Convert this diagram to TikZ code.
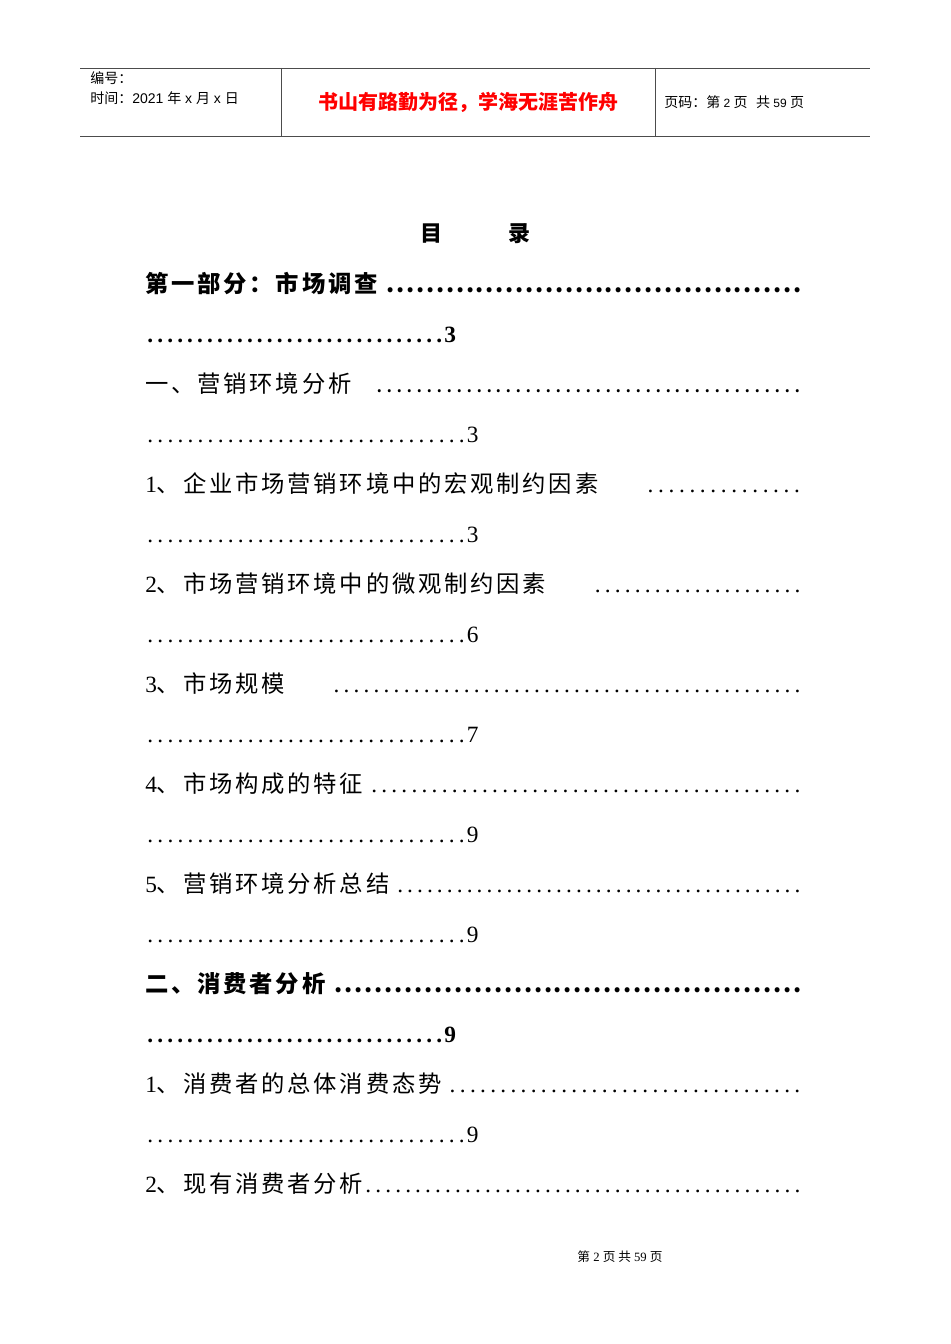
\documentclass[tikz,border=0pt]{standalone}
\usepackage{fontspec}
\setmainfont{Liberation Serif}
\newfontfamily\cjk[LetterSpace=12]{Noto Sans CJK SC}
\newfontfamily\cjkh{Noto Sans CJK SC}
\newfontfamily\hs{Liberation Sans}
\newcommand{\dl}{\xleaders\hbox to 7.4pt{\hss.\hss}\hfill}
\tikzset{tline/.style={anchor=base west,inner sep=0pt,font=\fontsize{17.5pt}{19pt}\selectfont},
 hdr/.style={anchor=base west,inner sep=0pt,font=\fontsize{10.5pt}{12pt}\selectfont\cjkh},
 rule/.style={line width=0.6pt,black!70}}
\begin{document}
\begin{tikzpicture}[x=0.75pt,y=-0.75pt]
\useasboundingbox (0,0) rectangle (950,1344);
\draw[rule] (80,68) -- (870,68) coordinate (r1);
\draw[rule] (80,136) -- (870,136) coordinate (r2);
\draw[rule] (281,68) -- (281,136);
\draw[rule] (655,68) -- (655,136);
\node[hdr] (h1) at (90,84) {编号：};
\node[hdr] (h2) at (90,104) {时间：{\hs 2021 }年{\hs\ x }月{\hs\ x }日};
\node[anchor=base,inner sep=0pt,text=red,font=\fontsize{15pt}{16pt}\selectfont\cjkh\bfseries] (h3) at (468,110) {书山有路勤为径，学海无涯苦作舟};
\node[hdr] (h4) at (664,108) {页码：第{\hs\fontsize{9pt}{10pt}\selectfont\ 2 }页\hspace{0.6em}共{\hs\fontsize{9pt}{10pt}\selectfont\ 59 }页};
\node[anchor=base,inner sep=0pt,font=\fontsize{16.5pt}{18pt}\selectfont\cjkh\bfseries] (t) at (475,242) {目\hspace{3em}录};
% entries
\node[tline] (a1) at (145,292) {\hbox to 493pt{\cjk\bfseries 第一部分：市场调查\ \dl}};
\node[tline] (a2) at (145,342) {\hbox to 233pt{\bfseries\dl 3}};
\node[tline] (b1) at (145,392) {\hbox to 493pt{\cjk 一、营销环境分析\quad\dl}};
\node[tline] (b2) at (145,442) {\hbox to 250pt{\dl 3}};
\node[tline] (c1) at (145,492) {\hbox to 493pt{1{\cjk 、企业市场营销环境中的宏观制约因素}\qquad\dl}};
\node[tline] (c2) at (145,542) {\hbox to 250pt{\dl 3}};
\node[tline] (d1) at (145,592) {\hbox to 493pt{2{\cjk 、市场营销环境中的微观制约因素}\qquad\dl}};
\node[tline] (d2) at (145,642) {\hbox to 250pt{\dl 6}};
\node[tline] (e1) at (145,692) {\hbox to 493pt{3{\cjk 、市场规模}\qquad\dl}};
\node[tline] (e2) at (145,742) {\hbox to 250pt{\dl 7}};
\node[tline] (f1) at (145,792) {\hbox to 493pt{4{\cjk 、市场构成的特征}\ \dl}};
\node[tline] (f2) at (145,842) {\hbox to 250pt{\dl 9}};
\node[tline] (g1) at (145,892) {\hbox to 493pt{5{\cjk 、营销环境分析总结}\ \dl}};
\node[tline] (g2) at (145,942) {\hbox to 250pt{\dl 9}};
\node[tline] (i1) at (145,992) {\hbox to 493pt{\cjk\bfseries 二、消费者分析\ \dl}};
\node[tline] (i2) at (145,1042) {\hbox to 233pt{\bfseries\dl 9}};
\node[tline] (j1) at (145,1092) {\hbox to 493pt{1{\cjk 、消费者的总体消费态势}\ \dl}};
\node[tline] (j2) at (145,1142) {\hbox to 250pt{\dl 9}};
\node[tline] (k1) at (145,1192) {\hbox to 493pt{2{\cjk 、现有消费者分析}\dl}};
\node[anchor=base,inner sep=0pt,font=\fontsize{9.5pt}{11pt}\selectfont] (ft) at (620,1261) {{\cjkh 第} 2 {\cjkh 页 共} 59 {\cjkh 页}};
\end{tikzpicture}
\end{document}
